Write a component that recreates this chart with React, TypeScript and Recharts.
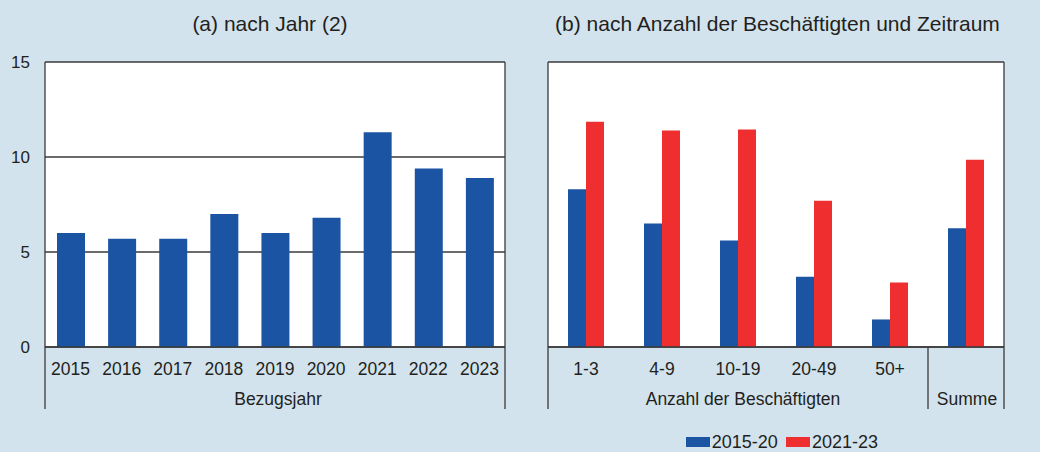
import React from 'react';
import { BarChart, Bar, XAxis, YAxis, CartesianGrid, Legend } from 'recharts';

// ---- data ----
const years = ['2015', '2016', '2017', '2018', '2019', '2020', '2021', '2022', '2023'];
const yearValues = [6.0, 5.7, 5.7, 7.0, 6.0, 6.8, 11.3, 9.4, 8.9];

const sizeCategories = ['1-3', '4-9', '10-19', '20-49', '50+', 'Summe'];
const series2015_20 = [8.3, 6.5, 5.6, 3.7, 1.45, 6.25];
const series2021_23 = [11.85, 11.4, 11.45, 7.7, 3.4, 9.85];

const yTicks = [0, 5, 10, 15];
const seriesNames = ['2015-20', '2021-23'];

const titleA = '(a) nach Jahr (2)';
const titleB = '(b) nach Anzahl der Beschäftigten und Zeitraum';
const groupA = 'Bezugsjahr';
const groupB1 = 'Anzahl der Beschäftigten';
const groupB2 = 'Summe';

// ---- style ----
const BG = '#d2e3ed';
const BLUE = '#1c54a4';
const RED = '#ee2e2f';
const TEXT = '#231f20';
const LINE = '#3a3a3a';
const FONT = '"Liberation Sans", Arial, sans-serif';

const CH = 452;
const TOP = 62;
const XAXIS_H = 105;
const PLOT_BOTTOM = CH - XAXIS_H;
const TICK_BASE = PLOT_BOTTOM + 27.5;
const GROUP_BASE = PLOT_BOTTOM + 57.5;
const EXT_BOTTOM = PLOT_BOTTOM + 62;

const dataA = years.map((y, i) => ({ name: y, v: yearValues[i] }));
const dataB = sizeCategories.map((c, i) => ({ name: c, a: series2015_20[i], b: series2021_23[i] }));

// chart A layout
const A_W = 520;
const A_LEFT = 45;
const A_RIGHT_W = 15;
const A_PLOT_W = A_W - A_LEFT - A_RIGHT_W;
const A_BAND = A_PLOT_W / years.length;

// chart B layout
const B_W = 520;
const B_LEFT = 28;
const B_RIGHT_W = 36;
const B_PLOT_W = B_W - B_LEFT - B_RIGHT_W;
const B_BAND = B_PLOT_W / sizeCategories.length;

const tickText = { fontFamily: FONT, fontSize: 17.5, fill: TEXT } as const;

const TickA = (props: any) => {
  const { x, index, payload } = props;
  const last = years.length - 1;
  return (
    <g>
      <text x={x} y={TICK_BASE} textAnchor="middle" {...tickText}>{payload.value}</text>
      {index === 0 && (
        <line x1={x - A_BAND / 2} x2={x - A_BAND / 2} y1={PLOT_BOTTOM} y2={EXT_BOTTOM} stroke={LINE} strokeWidth={1.3} />
      )}
      {index === last && (
        <line x1={x + A_BAND / 2} x2={x + A_BAND / 2} y1={PLOT_BOTTOM} y2={EXT_BOTTOM} stroke={LINE} strokeWidth={1.3} />
      )}
      {index === Math.floor(last / 2) && (
        <text x={x + 3} y={GROUP_BASE} textAnchor="middle" {...tickText}>{groupA}</text>
      )}
    </g>
  );
};

const TickB = (props: any) => {
  const { x, index, payload } = props;
  const last = sizeCategories.length - 1;
  return (
    <g>
      {index !== last && (
        <text x={x} y={TICK_BASE} textAnchor="middle" {...tickText}>{payload.value}</text>
      )}
      {index === 0 && (
        <line x1={x - B_BAND / 2} x2={x - B_BAND / 2} y1={PLOT_BOTTOM} y2={EXT_BOTTOM} stroke={LINE} strokeWidth={1.3} />
      )}
      {(index === last - 1 || index === last) && (
        <line x1={x + B_BAND / 2} x2={x + B_BAND / 2} y1={PLOT_BOTTOM} y2={EXT_BOTTOM} stroke={LINE} strokeWidth={1.3} />
      )}
      {index === 2 && (
        <text x={x + 5} y={GROUP_BASE} textAnchor="middle" {...tickText}>{groupB1}</text>
      )}
      {index === last && (
        <text x={x + 1} y={GROUP_BASE} textAnchor="middle" {...tickText}>{groupB2}</text>
      )}
    </g>
  );
};

const YTickLeftA = (props: any) => (
  <text x={30} y={props.y} dy="0.355em" textAnchor="end" fontFamily={FONT} fontSize={17} fill={TEXT}>
    {props.payload.value}
  </text>
);

const YTickRightB = (props: any) => (
  <text x={B_W - 0.5} y={props.y} dy="0.355em" textAnchor="end" fontFamily={FONT} fontSize={17} fill={TEXT}>
    {props.payload.value}
  </text>
);

const LegendContent = (props: any) => {
  const items = props.payload || [];
  return (
    <div style={{ display: 'flex', alignItems: 'flex-start', fontFamily: FONT, fontSize: 18, color: TEXT, lineHeight: '18px', whiteSpace: 'nowrap' }}>
      {items.map((it: any, i: number) => (
        <div key={i} style={{ display: 'flex', alignItems: 'flex-start', marginRight: 8.5 }}>
          <span style={{ display: 'inline-block', width: 24, height: 10, marginTop: 4, background: it.color }} />
          <span style={{ marginLeft: 1.7 }}>{it.value}</span>
        </div>
      ))}
    </div>
  );
};

const titleStyle = (left: number, width: number): React.CSSProperties => ({
  position: 'absolute',
  left,
  width,
  top: 13,
  textAlign: 'center',
  fontFamily: FONT,
  fontSize: 21,
  lineHeight: '21px',
  color: TEXT,
  whiteSpace: 'nowrap',
});

export default function App() {
  return (
    <div style={{ position: 'absolute', left: 0, top: 0, width: 1040, height: CH, background: BG, overflow: 'hidden' }}>
      <div style={titleStyle(0, 540)}>{titleA}</div>
      <div style={titleStyle(535, 485)}>{titleB}</div>

      <div style={{ position: 'absolute', left: 0, top: 0 }}>
        <BarChart width={A_W} height={CH} data={dataA} margin={{ top: TOP, right: 0, bottom: 0, left: 0 }}>
          <CartesianGrid vertical={false} fill="#ffffff" stroke={LINE} strokeWidth={1.3} />
          <XAxis dataKey="name" height={XAXIS_H} interval={0} tickLine={false} axisLine={{ stroke: LINE, strokeWidth: 1.3 }} tick={<TickA />} />
          <YAxis domain={[0, 15]} ticks={yTicks} width={A_LEFT} tickLine={false} axisLine={{ stroke: LINE, strokeWidth: 1.3 }} tick={<YTickLeftA />} />
          <YAxis yAxisId="r" orientation="right" domain={[0, 15]} ticks={yTicks} width={A_RIGHT_W} tickLine={false} tick={false} axisLine={{ stroke: LINE, strokeWidth: 1.3 }} />
          <Bar dataKey="v" fill={BLUE} barSize={28} isAnimationActive={false} />
        </BarChart>
      </div>

      <div style={{ position: 'absolute', left: 520, top: 0 }}>
        <BarChart width={B_W} height={CH} data={dataB} margin={{ top: TOP, right: 0, bottom: 0, left: 0 }} barGap={0}>
          <CartesianGrid vertical={false} fill="#ffffff" stroke={LINE} strokeWidth={1.3} />
          <XAxis dataKey="name" height={XAXIS_H} interval={0} tickLine={false} axisLine={{ stroke: LINE, strokeWidth: 1.3 }} tick={<TickB />} />
          <YAxis domain={[0, 15]} ticks={yTicks} width={B_LEFT} tickLine={false} tick={false} axisLine={{ stroke: LINE, strokeWidth: 1.3 }} />
          <YAxis yAxisId="r" orientation="right" domain={[0, 15]} ticks={yTicks} width={B_RIGHT_W} tickLine={false} axisLine={{ stroke: LINE, strokeWidth: 1.3 }} tick={<YTickRightB />} />
          <Bar dataKey="a" name={seriesNames[0]} fill={BLUE} barSize={18} isAnimationActive={false} />
          <Bar dataKey="b" name={seriesNames[1]} fill={RED} barSize={18} isAnimationActive={false} />
          <Legend
            layout="horizontal"
            verticalAlign="middle"
            align="center"
            content={<LegendContent />}
            wrapperStyle={{ left: 166, top: 433, width: 260, height: 19, right: 'auto', bottom: 'auto' }}
          />
        </BarChart>
      </div>
    </div>
  );
}
